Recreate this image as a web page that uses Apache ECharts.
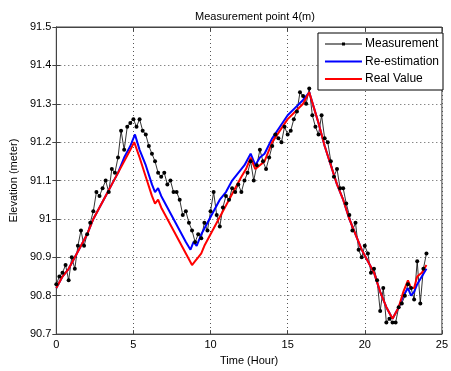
<!DOCTYPE html>
<html>
<head>
<meta charset="utf-8">
<script src="https://cdn.jsdelivr.net/npm/echarts@6/dist/echarts.min.js"></script>
<style>
  html,body{margin:0;padding:0;background:#fff;}
  #chart{width:451px;height:371px;}
</style>
</head>
<body>
<div id="chart"></div>
<script>
// measurement samples (every 0.2 h)
const measHours = [0,0.2,0.4,0.6,0.8,1,1.2,1.4,1.6,1.8,2,2.2,2.4,2.6,2.8,3,3.2,3.4,3.6,3.8,
  4,4.2,4.4,4.6,4.8,5,5.2,5.4,5.6,5.8,6,6.2,6.4,6.6,6.8,7,7.2,7.4,7.6,7.8,
  8,8.2,8.4,8.6,8.8,9,9.2,9.4,9.6,9.8,10,10.2,10.4,10.6,10.8,11,11.2,11.4,11.6,11.8,
  12,12.2,12.4,12.6,12.8,13,13.2,13.4,13.6,13.8,14,14.2,14.4,14.6,14.8,15,15.2,15.4,15.6,15.8,
  16,16.2,16.4,16.6,16.8,17,17.2,17.4,17.6,17.8,18,18.2,18.4,18.6,18.8,19,19.2,19.4,19.6,19.8,
  20,20.2,20.4,20.6,20.8,21,21.2,21.4,21.6,21.8,22,22.2,22.4,22.6,22.8,23,23.2,23.4,23.6,23.8,24]
const measValues = [90.83,90.85,90.86,90.88,90.84,90.90,90.87,90.93,90.97,90.93,
  90.96,90.99,91.02,91.07,91.06,91.08,91.10,91.07,91.13,91.12,
  91.16,91.23,91.18,91.24,91.25,91.26,91.24,91.26,91.23,91.22,
  91.19,91.17,91.15,91.12,91.11,91.12,91.09,91.10,91.07,91.07,
  91.05,91.01,91.02,90.99,90.97,90.94,90.96,90.95,90.99,90.97,
  91.02,91.07,91.01,90.98,91.03,91.06,91.05,91.08,91.07,91.09,
  91.07,91.10,91.12,91.15,91.10,91.14,91.18,91.15,91.13,91.16,
  91.19,91.22,91.21,91.20,91.24,91.22,91.23,91.26,91.28,91.33,
  91.32,91.30,91.34,91.27,91.24,91.22,91.27,91.21,91.20,91.15,
  91.11,91.13,91.08,91.08,91.04,91.01,90.97,90.99,90.92,90.90,
  90.93,90.91,90.86,90.87,90.84,90.76,90.82,90.73,90.74,90.73,
  90.73,90.77,90.78,90.80,90.83,90.82,90.79,90.89,90.78,90.87,90.91]

// re-estimation
const estHours = [0,0.4,0.8,1.2,1.6,2,2.4,2.8,3.2,3.6,4,4.4,4.8,5.1,5.4,5.8,6.2,6.4,6.6,6.8,
  7.2,7.6,8,8.4,8.7,8.9,9.1,9.4,9.8,10.2,10.6,11,11.4,11.8,12.2,12.6,12.9,13.2,13.5,14,
  14.5,15,15.5,16,16.4,16.7,17,17.4,17.8,18.2,18.6,19,19.4,19.8,20.2,20.6,21,21.4,21.8,22.2,
  22.5,22.8,23,23.2,23.4,23.7,24]
const estValues = [90.82,90.85,90.87,90.90,90.93,90.96,91.00,91.03,91.06,91.09,
  91.12,91.16,91.19,91.22,91.18,91.14,91.09,91.07,91.08,91.06,
  91.03,91.00,90.97,90.94,90.92,90.94,90.93,90.96,90.99,91.02,
  91.05,91.07,91.10,91.12,91.14,91.17,91.14,91.16,91.17,91.21,
  91.24,91.27,91.29,91.31,91.33,91.29,91.25,91.19,91.14,91.09,
  91.05,91.00,90.96,90.92,90.89,90.86,90.81,90.77,90.74,90.77,
  90.80,90.82,90.80,90.81,90.83,90.85,90.87]

// real value
const realHours = [0,0.4,0.8,1.2,1.6,2,2.4,2.8,3.2,3.6,4,4.4,4.8,5.05,5.4,5.8,6.2,6.4,6.6,6.8,
  7.2,7.6,8,8.4,8.8,9,9.2,9.4,9.6,10,10.4,10.8,11.2,11.6,12,12.3,12.6,12.9,13.2,13.5,
  14,14.5,15,15.5,16,16.4,16.7,17,17.4,17.8,18.2,18.6,19,19.4,19.8,20.2,20.6,21,21.4,21.8,
  22.2,22.5,22.8,23,23.2,23.4,23.7,24]
const realValues = [90.82,90.85,90.87,90.90,90.93,90.96,91.00,91.03,91.06,91.09,
  91.12,91.15,91.18,91.20,91.16,91.11,91.06,91.04,91.05,91.03,
  91.00,90.97,90.94,90.91,90.88,90.89,90.90,90.91,90.93,90.96,
  90.99,91.02,91.05,91.08,91.11,91.13,91.16,91.13,91.14,91.15,
  91.20,91.23,91.26,91.28,91.30,91.33,91.29,91.25,91.19,91.14,
  91.09,91.05,91.00,90.96,90.92,90.89,90.86,90.81,90.77,90.74,
  90.77,90.81,90.84,90.82,90.82,90.85,90.86,90.88]

const xTicks = [0, 25, 5]        // min, max, step
const yTicks = [90.7, 91.5, 0.1]

const pairs = (xs, ys) => xs.map((x, i) => [x, ys[i]])

const font = 'Liberation Sans, Arial, sans-serif'
const axisCol = '#444'
const gridLine = {show: true, lineStyle: {color: '#555', width: 1, type: [1, 3]}}

// legend icons drawn in a 37x10 box (the corner moves keep the box size)
const dotLineIcon = 'path://M0,0M37,10M0,4.5H37V5.5H0Z M17,3.5H20V6.5H17Z'
const thickLineIcon = 'path://M0,0M37,10M0,4H37V6H0Z'

const chart = echarts.init(document.getElementById('chart'))
chart.setOption({
  backgroundColor: '#fff',
  animation: false,
  title: {
    text: 'Measurement point 4(m)',
    left: 250, top: 6, textAlign: 'center',
    textStyle: {fontFamily: font, fontSize: 11, fontWeight: 'normal', color: '#000'}
  },
  legend: {
    orient: 'vertical',
    right: 8, top: 33,
    itemWidth: 37, itemHeight: 10, itemGap: 5.5,
    padding: [5, 4, 5, 7],
    borderColor: '#000', borderWidth: 1,
    backgroundColor: '#fff',
    textStyle: {fontFamily: font, fontSize: 12, color: '#000', padding: [0, 0, 0, -2]},
    data: [
      {name: 'Measurement', icon: dotLineIcon},
      {name: 'Re-estimation', icon: thickLineIcon},
      {name: 'Real Value', icon: thickLineIcon}
    ]
  },
  grid: {left: 54, right: 6, top: 27, bottom: 36, show: true, borderColor: axisCol, borderWidth: 1},
  xAxis: [{
    type: 'value', min: xTicks[0], max: xTicks[1], interval: xTicks[2],
    name: 'Time (Hour)', nameLocation: 'middle', nameGap: 20,
    nameTextStyle: {fontFamily: font, fontSize: 11, color: '#000'},
    axisLine: {lineStyle: {color: axisCol}},
    axisTick: {inside: true, length: 4, lineStyle: {color: axisCol}},
    axisLabel: {fontFamily: font, fontSize: 11, color: '#000', margin: 5},
    splitLine: gridLine
  }, {
    type: 'value', position: 'top', min: xTicks[0], max: xTicks[1], interval: xTicks[2],
    axisLine: {lineStyle: {color: axisCol}},
    axisTick: {inside: true, length: 4, lineStyle: {color: axisCol}},
    axisLabel: {show: false}, splitLine: {show: false}
  }],
  yAxis: [{
    type: 'value', min: yTicks[0], max: yTicks[1], interval: yTicks[2],
    name: 'Elevation (meter)', nameLocation: 'middle', nameGap: 34,
    nameTextStyle: {fontFamily: font, fontSize: 11, color: '#000'},
    axisLine: {show: true, lineStyle: {color: axisCol}},
    axisTick: {show: true, inside: true, length: 4, lineStyle: {color: axisCol}},
    axisLabel: {fontFamily: font, fontSize: 11, color: '#000', margin: 5},
    splitLine: gridLine
  }, {
    type: 'value', position: 'right', min: yTicks[0], max: yTicks[1], interval: yTicks[2],
    axisLine: {show: true, lineStyle: {color: axisCol}},
    axisTick: {show: true, inside: true, length: 4, lineStyle: {color: axisCol}},
    axisLabel: {show: false}, splitLine: {show: false}
  }],
  series: [
    {
      name: 'Measurement', type: 'line',
      data: pairs(measHours, measValues),
      symbol: 'circle', symbolSize: 4,
      itemStyle: {color: '#000'},
      lineStyle: {color: '#000', width: 0.8}
    },
    {
      name: 'Re-estimation', type: 'line',
      data: pairs(estHours, estValues),
      symbol: 'none',
      itemStyle: {color: '#0000ff'},
      lineStyle: {color: '#0000ff', width: 2}
    },
    {
      name: 'Real Value', type: 'line',
      data: pairs(realHours, realValues),
      symbol: 'none',
      itemStyle: {color: '#ff0000'},
      lineStyle: {color: '#ff0000', width: 2}
    }
  ]
})
</script>
</body>
</html>
